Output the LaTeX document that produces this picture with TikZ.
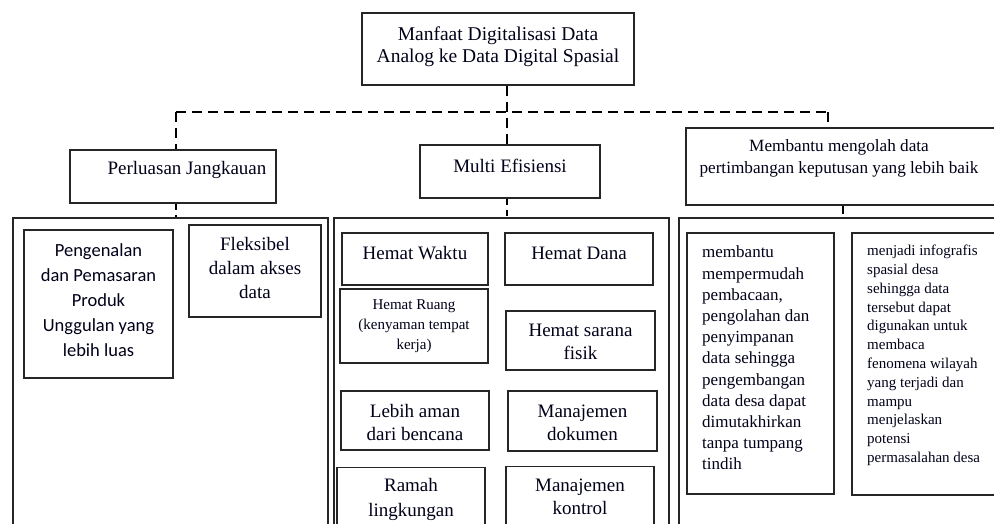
\documentclass[tikz,border=0pt]{standalone}
\usepackage{fontspec}
\setmainfont{Liberation Serif}
\newfontfamily\calib{Carlito}
\begin{document}
\begin{tikzpicture}[x=1pt,y=-1pt,
  bx/.style={draw=black!85, line width=1.4pt, inner sep=0pt},
  bigbx/.style={draw=black!85, line width=2pt, inner sep=0pt},
  txt/.style={align=center, inner sep=0pt, text=black!90!blue},
  ltxt/.style={align=left, inner sep=0pt, text=black!90!blue},
  dsh/.style={line width=2.8pt, dash pattern=on 10pt off 6pt},
  tick/.style={line width=2pt, dash pattern=on 6pt off 5pt}]
\clip (0,0) rectangle (994,524);
\fill[white] (0,0) rectangle (994,524);

% top level
\node[bx, minimum width=272pt, minimum height=72pt] (top) at (498,49) {};
\node[txt, font=\fontsize{19.5}{22}\selectfont] (topT) at (498,47) {Manfaat Digitalisasi Data\\Analog ke Data Digital Spasial};

% second level
\node[bx, minimum width=206pt, minimum height=53pt] (perl) at (173,176.5) {};
\node[txt, font=\fontsize{19}{22}\selectfont] (perlT) at (187,170) {Perluasan Jangkauan};
\node[bx, minimum width=180pt, minimum height=53pt] (multi) at (510,171.5) {};
\node[txt, font=\fontsize{19}{22}\selectfont] (multiT) at (510,166) {Multi Efisiensi};
\node[bx, minimum width=310pt, minimum height=77pt] (memb) at (841,166.5) {};
\node[txt, font=\fontsize{17.2}{22}\selectfont] (membT) at (839,158) {Membantu mengolah data\\pertimbangan keputusan yang lebih baik};

% connectors level 1
\coordinate (jl) at (176,112);
\coordinate (jm) at (507,112);
\coordinate (jr) at (828,112);
\draw[dsh] (top.south -| jm) -- (multi.north -| jm);
\draw[dsh] (jl) -- (jr);
\draw[dsh] (jl) -- (perl.north -| jl);
\draw[dsh] (jr) -- (memb.north -| jr);

% containers
\node[bigbx, minimum width=315pt, minimum height=320pt, anchor=north west] (bigL) at (12,217) {};
\node[bigbx, minimum width=335pt, minimum height=320pt, anchor=north west] (bigM) at (333,217) {};
\node[bigbx, minimum width=330pt, minimum height=320pt, anchor=north west] (bigR) at (678,217) {};

% connectors level 2
\coordinate (cl) at (176,210);
\coordinate (cm) at (507,210);
\coordinate (cr) at (843,210);
\draw[tick] (perl.south -| cl) -- (bigL.north -| cl);
\draw[tick] (multi.south -| cm) -- (bigM.north -| cm);
\draw[line width=2pt] (memb.south -| cr) -- ++(0,8);

% left panel
\node[bx, minimum width=149pt, minimum height=148pt] (peng) at (98.5,304) {};
\node[txt, font=\calib\fontsize{18.5}{25}\selectfont] (pengT) at (98.5,300) {Pengenalan\\dan Pemasaran\\Produk\\Unggulan yang\\lebih luas};
\node[bx, minimum width=132pt, minimum height=92pt] (flek) at (255,271) {};
\node[txt, font=\fontsize{19}{24.5}\selectfont] (flekT) at (255,268) {Fleksibel\\dalam akses\\data};

% middle panel
\node[bx, minimum width=146pt, minimum height=52pt] (hw) at (415,259) {};
\node[txt, font=\fontsize{19}{23}\selectfont] (hwT) at (415,253) {Hemat Waktu};
\node[bx, minimum width=148pt, minimum height=52pt] (hd) at (579,259) {};
\node[txt, font=\fontsize{19}{23}\selectfont] (hdT) at (579,253) {Hemat Dana};
\node[bx, minimum width=148pt, minimum height=74pt] (hr) at (414,326) {};
\node[txt, font=\fontsize{15}{20}\selectfont] (hrT) at (414,326) {Hemat Ruang\\(kenyaman tempat\\kerja)};
\node[bx, minimum width=149pt, minimum height=59pt] (hs) at (580.5,340.5) {};
\node[txt, font=\fontsize{19}{23}\selectfont] (hsT) at (580.5,341.5) {Hemat sarana\\fisik};
\node[bx, minimum width=148pt, minimum height=59pt] (la) at (415,420.5) {};
\node[txt, font=\fontsize{19}{23}\selectfont] (laT) at (415,422) {Lebih aman\\dari bencana};
\node[bx, minimum width=149pt, minimum height=60pt] (md) at (582.5,421) {};
\node[txt, font=\fontsize{19}{23}\selectfont] (mdT) at (582.5,422.5) {Manajemen\\dokumen};
\node[bx, minimum width=148pt, minimum height=70pt, anchor=north] (rl) at (411,467) {};
\node[txt, font=\fontsize{19}{25}\selectfont] (rlT) at (411,499.5) {Ramah\\lingkungan};
\node[bx, minimum width=148pt, minimum height=70pt, anchor=north] (mk) at (580,466) {};
\node[txt, font=\fontsize{19}{23}\selectfont] (mkT) at (580,496.5) {Manajemen\\kontrol};

% right panel
\node[bx, minimum width=147pt, minimum height=261pt] (t1) at (760.5,363.5) {};
\node[ltxt, font=\fontsize{17}{21.2}\selectfont, anchor=west] (t1T) at (702,358) {membantu\\mempermudah\\pembacaan,\\pengolahan dan\\penyimpanan\\data sehingga\\pengembangan\\data desa dapat\\dimutakhirkan\\tanpa tumpang\\tindih};
\node[bx, minimum width=160pt, minimum height=262pt] (t2) at (932,364) {};
\node[ltxt, font=\fontsize{15}{18.8}\selectfont, anchor=west] (t2T) at (867,355.5) {menjadi infografis\\spasial desa\\sehingga data\\tersebut dapat\\digunakan untuk\\membaca\\fenomena wilayah\\yang terjadi dan\\mampu\\menjelaskan\\potensi\\permasalahan desa};
\end{tikzpicture}
\end{document}
